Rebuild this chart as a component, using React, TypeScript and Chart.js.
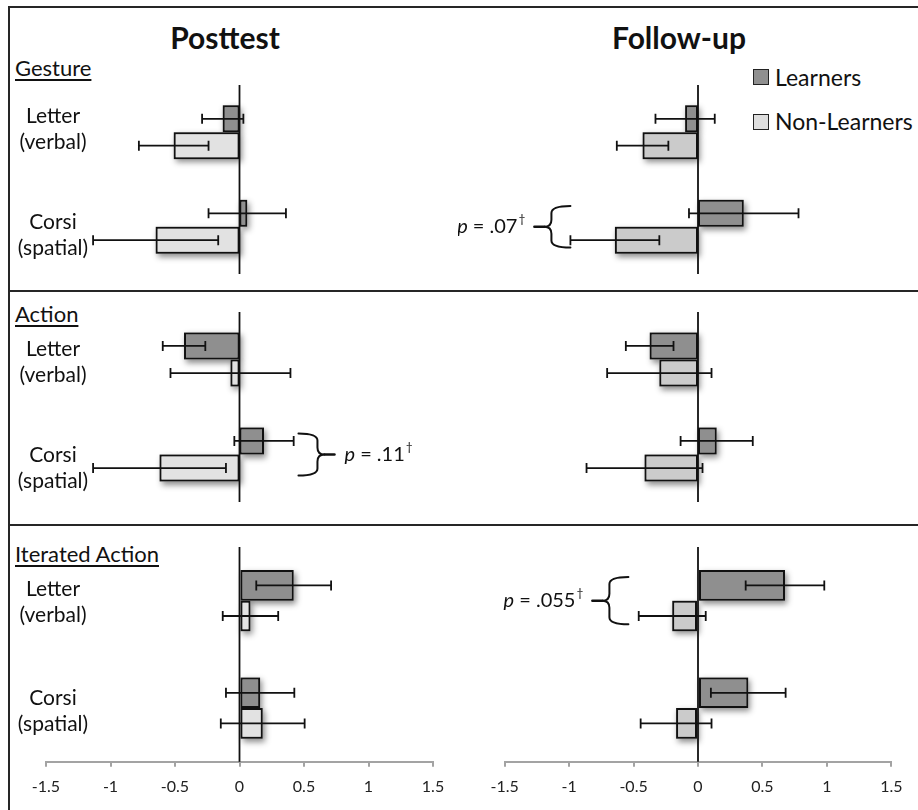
import React, { useEffect, useRef } from 'react';
import { Chart, registerables } from 'chart.js';
Chart.register(...registerables);

const FONT = 'Lato, "Open Sans", sans-serif';

// ---- data ----
const categories = ['Letter (verbal)', 'Corsi (spatial)'];
const categoryLines = [['Letter', '(verbal)'], ['Corsi', '(spatial)']];
const seriesNames = ['Learners', 'Non-Learners'];
const xTickLabels = ['-1.5', '-1', '-0.5', '0', '0.5', '1', '1.5'];
const columnTitles = ['Posttest', 'Follow-up'];
const sectionTitles = ['Gesture', 'Action', 'Iterated Action'];

// Posttest
const gesturePostLearners = [-0.13, 0.06];
const gesturePostLearnersErr = [0.16, 0.3];
const gesturePostNon = [-0.51, -0.65];
const gesturePostNonErr = [0.27, 0.485];
const actionPostLearners = [-0.43, 0.19];
const actionPostLearnersErr = [0.165, 0.23];
const actionPostNon = [-0.07, -0.62];
const actionPostNonErr = [0.465, 0.515];
const iterPostLearners = [0.42, 0.16];
const iterPostLearnersErr = [0.29, 0.265];
const iterPostNon = [0.085, 0.18];
const iterPostNonErr = [0.215, 0.325];

// Follow-up
const gestureFollowLearners = [-0.1, 0.355];
const gestureFollowLearnersErr = [0.23, 0.425];
const gestureFollowNon = [-0.43, -0.645];
const gestureFollowNonErr = [0.2, 0.345];
const actionFollowLearners = [-0.375, 0.145];
const actionFollowLearnersErr = [0.185, 0.28];
const actionFollowNon = [-0.3, -0.415];
const actionFollowNonErr = [0.405, 0.45];
const iterFollowLearners = [0.675, 0.39];
const iterFollowLearnersErr = [0.305, 0.29];
const iterFollowNon = [-0.2, -0.17];
const iterFollowNonErr = [0.26, 0.275];

// significance notes
const postActionNote = { category: 1, p: '.11', anchor: 0.457, side: 'right' };
const followGestureNote = { category: 1, p: '.07', anchor: -0.99, side: 'left' };
const followIterNote = { category: 0, p: '.055', anchor: -0.54, side: 'left' };

// ---- styles ----
const LEARNER_COLOR = '#8f8f8f';
const NON_POST_COLOR = '#e2e2e2';
const NON_FOLLOW_COLOR = '#cbcbcb';
const INK = '#111111';

const ROWS = [
  { top: 60, height: 229, padTop: 25, padBottom: 15, axis: false, labelOffsets: [-3, 8] },
  { top: 293, height: 230, padTop: 19, padBottom: 21, axis: false, labelOffsets: [3, 14] },
  { top: 528, height: 282, padTop: 19, padBottom: 4, axis: true, labelOffsets: [2, 3] },
];
const COLS = [
  { left: 10, width: 448, padLeft: 36, padRight: 25 },
  { left: 458, width: 460, padLeft: 46.7, padRight: 26.7 },
];

function drawPText(ctx: CanvasRenderingContext2D, p: string, x: number, y: number, align: string) {
  const size = 20;
  const fI = `italic ${size}px ${FONT}`;
  const fN = `${size}px ${FONT}`;
  const fS = `${Math.round(size * 0.6)}px ${FONT}`;
  ctx.font = fI;
  const wp = ctx.measureText('p').width;
  ctx.font = fN;
  const rest = ' = ' + p;
  const wr = ctx.measureText(rest).width;
  ctx.font = fS;
  const wd = ctx.measureText('†').width;
  const total = wp + wr + wd;
  const start = align === 'left' ? x : x - total;
  ctx.fillStyle = INK;
  ctx.textBaseline = 'middle';
  ctx.textAlign = 'left';
  ctx.font = fI;
  ctx.fillText('p', start, y);
  ctx.font = fN;
  ctx.fillText(rest, start + wp, y);
  ctx.font = fS;
  ctx.fillText('†', start + wp + wr + 1, y - size * 0.38);
}

function drawBrace(ctx: CanvasRenderingContext2D, armX: number, spineX: number, dashEnd: number, y1: number, y2: number) {
  const ym = (y1 + y2) / 2;
  const dir = Math.sign(spineX - armX);
  const r = 7;
  ctx.save();
  ctx.strokeStyle = INK;
  ctx.lineWidth = 2;
  ctx.lineCap = 'round';
  ctx.beginPath();
  ctx.moveTo(armX, y1);
  ctx.quadraticCurveTo(spineX, y1, spineX, y1 + r);
  ctx.lineTo(spineX, ym - r);
  ctx.quadraticCurveTo(spineX, ym, spineX + dir * r, ym);
  ctx.moveTo(spineX + dir * r, ym);
  ctx.quadraticCurveTo(spineX, ym, spineX, ym + r);
  ctx.lineTo(spineX, y2 - r);
  ctx.quadraticCurveTo(spineX, y2, armX, y2);
  ctx.stroke();
  ctx.lineWidth = 2.6;
  ctx.beginPath();
  ctx.moveTo(spineX + dir * r, ym);
  ctx.lineTo(dashEnd, ym);
  ctx.stroke();
  ctx.restore();
}

function makeDecor(cfg: any) {
  return {
    id: 'panelDecor',
    beforeDatasetsDraw(chart: any) {
      const ctx = chart.ctx;
      ctx.save();
      chart.data.datasets.forEach((ds: any, di: number) => {
        const meta = chart.getDatasetMeta(di);
        meta.data.forEach((el: any) => {
          const { x, y, base, height } = el.getProps(['x', 'y', 'base', 'height'], true);
          const left = Math.min(x, base);
          const w = Math.abs(x - base);
          ctx.shadowColor = 'rgba(0,0,0,0.45)';
          ctx.shadowBlur = 6;
          ctx.shadowOffsetX = 2;
          ctx.shadowOffsetY = 3;
          ctx.fillStyle = '#999';
          ctx.fillRect(left, y - height / 2, w, height);
        });
      });
      ctx.restore();
    },
    afterDatasetsDraw(chart: any) {
      const ctx = chart.ctx;
      const xs = chart.scales.x;
      const ys = chart.scales.y;
      const area = chart.chartArea;
      ctx.save();
      // error bars
      ctx.strokeStyle = INK;
      ctx.lineWidth = 1.8;
      chart.data.datasets.forEach((ds: any, di: number) => {
        const meta = chart.getDatasetMeta(di);
        const errs = cfg.errors[di];
        meta.data.forEach((el: any, i: number) => {
          const v = ds.data[i];
          const e = errs[i];
          const xl = xs.getPixelForValue(v - e);
          const xr = xs.getPixelForValue(v + e);
          const y = el.y;
          ctx.beginPath();
          ctx.moveTo(xl, y);
          ctx.lineTo(xr, y);
          ctx.moveTo(xl, y - 5);
          ctx.lineTo(xl, y + 5);
          ctx.moveTo(xr, y - 5);
          ctx.lineTo(xr, y + 5);
          ctx.stroke();
        });
      });
      // zero line
      const x0 = xs.getPixelForValue(0);
      ctx.lineWidth = 1.8;
      ctx.beginPath();
      ctx.moveTo(x0, area.top);
      ctx.lineTo(x0, area.bottom);
      ctx.stroke();
      // row labels
      if (cfg.rowLabels) {
        ctx.fillStyle = INK;
        ctx.font = `21px ${FONT}`;
        ctx.textAlign = 'center';
        ctx.textBaseline = 'middle';
        categoryLines.forEach((lines, i) => {
          const yc = ys.getPixelForValue(i) + cfg.labelOffsets[i];
          const lx = area.left + 7;
          ctx.fillText(lines[0], lx, yc - 13);
          ctx.fillText(lines[1], lx, yc + 13);
        });
      }
      // significance note
      const note = cfg.note;
      if (note) {
        const yc = ys.getPixelForValue(note.category);
        const band = Math.abs(ys.getPixelForValue(1) - ys.getPixelForValue(0));
        const h = band * 0.22;
        const ax = xs.getPixelForValue(note.anchor);
        const dir = note.side === 'right' ? 1 : -1;
        const spine = ax + dir * 19;
        const dashEnd = ax + dir * 36;
        drawBrace(ctx, ax, spine, dashEnd, yc - h, yc + h);
        drawPText(ctx, note.p, ax + dir * 46, yc, note.side === 'right' ? 'left' : 'right');
      }
      ctx.restore();
    },
  };
}

function Panel(props: any) {
  const ref = useRef<HTMLCanvasElement>(null);
  const { row, col, learners, learnersErr, non, nonErr, nonColor, note } = props;
  const R = ROWS[row];
  const C = COLS[col];
  useEffect(() => {
    const canvas = ref.current!;
    const chart = new Chart(canvas, {
      type: 'bar',
      data: {
        labels: categories,
        datasets: [
          {
            label: seriesNames[0],
            data: learners,
            backgroundColor: LEARNER_COLOR,
            borderColor: INK,
            borderWidth: 2,
            borderSkipped: false,
            categoryPercentage: 0.57,
            barPercentage: 1.0,
          },
          {
            label: seriesNames[1],
            data: non,
            backgroundColor: nonColor,
            borderColor: INK,
            borderWidth: 2,
            borderSkipped: false,
            categoryPercentage: 0.57,
            barPercentage: 1.0,
          },
        ],
      },
      options: {
        animation: false,
        responsive: false,
        maintainAspectRatio: false,
        indexAxis: 'y',
        layout: { padding: { top: R.padTop, bottom: R.padBottom, left: C.padLeft, right: C.padRight } },
        plugins: { legend: { display: false }, tooltip: { enabled: false }, title: { display: false } },
        scales: {
          x: {
            type: 'linear',
            min: -1.5,
            max: 1.5,
            display: R.axis,
            grid: { display: true, drawOnChartArea: false, drawTicks: true, tickLength: 5, color: '#a3a3a3', lineWidth: 2 },
            border: { display: true, color: '#a3a3a3', width: 2 },
            ticks: {
              stepSize: 0.5,
              autoSkip: false,
              maxRotation: 0,
              padding: 10,
              color: '#222',
              font: { family: FONT, size: 16 },
              callback: (_v: any, i: number) => xTickLabels[i],
            },
          },
          y: { type: 'category', display: false },
        },
      },
      plugins: [makeDecor({ errors: [learnersErr, nonErr], rowLabels: col === 0, labelOffsets: R.labelOffsets, note })],
    } as any);
    return () => chart.destroy();
  }, []);
  return (
    <canvas
      ref={ref}
      width={C.width}
      height={R.height}
      style={{ position: 'absolute', left: C.left, top: R.top, width: C.width, height: R.height }}
    />
  );
}

const lineStyle = (s: any) => ({ position: 'absolute' as const, background: '#262626', ...s });

export default function App() {
  const sectionTops = [57, 303, 543];
  return (
    <div style={{ position: 'absolute', left: 0, top: 0, width: 918, height: 810, background: '#fff', fontFamily: FONT, color: INK, overflow: 'hidden' }}>
      <div style={lineStyle({ left: 8, top: 6, width: 910, height: 2 })} />
      <div style={lineStyle({ left: 8, top: 6, width: 2, height: 804 })} />
      <div style={lineStyle({ left: 8, top: 290, width: 910, height: 2 })} />
      <div style={lineStyle({ left: 8, top: 524, width: 910, height: 2 })} />

      <div style={{ position: 'absolute', left: 75, width: 300, top: 22, textAlign: 'center', fontWeight: 700, fontSize: 30, lineHeight: '30px' }}>{columnTitles[0]}</div>
      <div style={{ position: 'absolute', left: 529, width: 300, top: 22, textAlign: 'center', fontWeight: 700, fontSize: 30, lineHeight: '30px' }}>{columnTitles[1]}</div>

      {sectionTitles.map((t, i) => (
        <div key={t} style={{ position: 'absolute', left: 15, top: sectionTops[i], fontSize: 22, lineHeight: '22px', textDecoration: 'underline', textDecorationThickness: '1.5px', textUnderlineOffset: '3px', whiteSpace: 'nowrap' }}>{t}</div>
      ))}

      {seriesNames.map((n, i) => (
        <React.Fragment key={n}>
          <div style={{ position: 'absolute', left: 753, top: i === 0 ? 69 : 114, width: 16, height: 16, boxSizing: 'border-box', border: '1.5px solid #222', background: i === 0 ? LEARNER_COLOR : '#dedede' }} />
          <div style={{ position: 'absolute', left: 775, top: (i === 0 ? 78 : 122) - 12.2, fontSize: 23, lineHeight: '23px', whiteSpace: 'nowrap' }}>{n}</div>
        </React.Fragment>
      ))}

      <Panel row={0} col={0} learners={gesturePostLearners} learnersErr={gesturePostLearnersErr} non={gesturePostNon} nonErr={gesturePostNonErr} nonColor={NON_POST_COLOR} />
      <Panel row={1} col={0} learners={actionPostLearners} learnersErr={actionPostLearnersErr} non={actionPostNon} nonErr={actionPostNonErr} nonColor={NON_POST_COLOR} note={postActionNote} />
      <Panel row={2} col={0} learners={iterPostLearners} learnersErr={iterPostLearnersErr} non={iterPostNon} nonErr={iterPostNonErr} nonColor={NON_POST_COLOR} />
      <Panel row={0} col={1} learners={gestureFollowLearners} learnersErr={gestureFollowLearnersErr} non={gestureFollowNon} nonErr={gestureFollowNonErr} nonColor={NON_FOLLOW_COLOR} note={followGestureNote} />
      <Panel row={1} col={1} learners={actionFollowLearners} learnersErr={actionFollowLearnersErr} non={actionFollowNon} nonErr={actionFollowNonErr} nonColor={NON_FOLLOW_COLOR} />
      <Panel row={2} col={1} learners={iterFollowLearners} learnersErr={iterFollowLearnersErr} non={iterFollowNon} nonErr={iterFollowNonErr} nonColor={NON_FOLLOW_COLOR} note={followIterNote} />
    </div>
  );
}
